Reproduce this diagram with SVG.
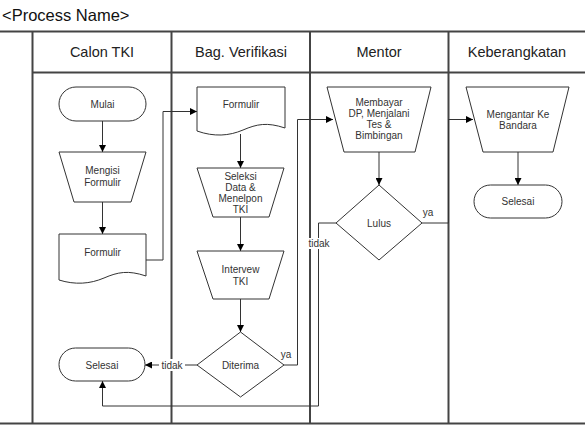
<svg xmlns="http://www.w3.org/2000/svg" width="585" height="426" viewBox="0 0 585 426">
<defs>
<marker id="ah" viewBox="0 0 10 10" refX="10" refY="5" markerWidth="7" markerHeight="7" orient="auto" markerUnits="userSpaceOnUse">
<path d="M0,0 L10,5 L0,10 z" fill="#000"/>
</marker>
</defs>
<style>
.lane{stroke:#444;stroke-width:2;fill:none}
.shape{fill:#fff;stroke:#333;stroke-width:1}
.t{font-family:"Liberation Sans",Arial,sans-serif;font-size:10px;fill:#333;text-anchor:middle}
.h{font-family:"Liberation Sans",Arial,sans-serif;font-size:14.5px;fill:#222;text-anchor:middle}
.c{fill:none;stroke:#333;stroke-width:1}
.lbl{font-family:"Liberation Sans",Arial,sans-serif;font-size:10px;fill:#333}
</style>
<rect width="585" height="426" fill="#fff"/>
<text x="2" y="21" font-family="Liberation Sans, Arial, sans-serif" font-size="16.5" fill="#111">&lt;Process Name&gt;</text>
<g id="pool">
<line class="lane" x1="0" y1="31.5" x2="585" y2="31.5"/>
<line class="lane" x1="0" y1="423.5" x2="585" y2="423.5"/>
<line class="lane" x1="32.5" y1="31.5" x2="32.5" y2="423.5"/>
<line class="lane" x1="171.5" y1="31.5" x2="171.5" y2="423.5"/>
<line class="lane" x1="310" y1="31.5" x2="310" y2="423.5"/>
<line class="lane" x1="448.5" y1="31.5" x2="448.5" y2="423.5"/>
<line class="lane" x1="32.5" y1="72.5" x2="585" y2="72.5"/>
<text class="h" x="102" y="57">Calon TKI</text>
<text class="h" x="241" y="57">Bag. Verifikasi</text>
<text class="h" x="379" y="57">Mentor</text>
<text class="h" x="517" y="57">Keberangkatan</text>
</g>
<g id="connectors">
<line class="c" x1="102.5" y1="121" x2="102.5" y2="152" marker-end="url(#ah)"/>
<line class="c" x1="102.5" y1="202" x2="102.5" y2="234" marker-end="url(#ah)"/>
<polyline class="c" points="146,260 163,260 163,111.5 197,111.5" marker-end="url(#ah)"/>
<line class="c" x1="240.5" y1="134" x2="240.5" y2="168" marker-end="url(#ah)"/>
<line class="c" x1="240.5" y1="217" x2="240.5" y2="251" marker-end="url(#ah)"/>
<line class="c" x1="240.5" y1="299" x2="240.5" y2="332" marker-end="url(#ah)"/>
<line class="c" x1="197" y1="365" x2="145" y2="365" marker-end="url(#ah)"/>
<polyline class="c" points="284,365 297.5,365 297.5,119.5 333,119.5" marker-end="url(#ah)"/>
<line class="c" x1="379" y1="152" x2="379" y2="185" marker-end="url(#ah)"/>
<polyline class="c" points="336,223 318.5,223 318.5,406 102.5,406 102.5,381" marker-end="url(#ah)"/>
<polyline class="c" points="422,223 448.5,223 448.5,119.5 473,119.5" marker-end="url(#ah)"/>
<line class="c" x1="518" y1="152" x2="518" y2="185" marker-end="url(#ah)"/>
<rect x="159" y="359" width="26" height="12" fill="#fff"/>
<text class="lbl" x="172" y="368.5" text-anchor="middle">tidak</text>
<text class="lbl" x="286" y="358" text-anchor="middle">ya</text>
<rect x="307" y="238" width="24" height="11" fill="#fff"/>
<text class="lbl" x="319" y="246.5" text-anchor="middle">tidak</text>
<text class="lbl" x="428" y="216" text-anchor="middle">ya</text>
</g>
<g id="mulai">
<rect class="shape" x="59" y="87" width="87" height="34" rx="17"/>
<text class="t" x="102.5" y="107.5">Mulai</text>
</g>
<g id="mengisi">
<polygon class="shape" points="59,152 146,152 131,202 74,202"/>
<text class="t" x="102.5" y="174">Mengisi</text>
<text class="t" x="102.5" y="186">Formulir</text>
</g>
<g id="formulir1">
<path class="shape" d="M59,234 H146 V276 C128,270 118,272 104,278 C90,284 75,285 59,280 Z"/>
<text class="t" x="102.5" y="256">Formulir</text>
</g>
<g id="selesai1">
<rect class="shape" x="59" y="348" width="86" height="33" rx="16.5"/>
<text class="t" x="102" y="368.5">Selesai</text>
</g>
<g id="formulir2">
<path class="shape" d="M197,87 H285 V128 C267,122 257,124 243,130 C229,136 214,137 197,131 Z"/>
<text class="t" x="241" y="108">Formulir</text>
</g>
<g id="seleksi">
<polygon class="shape" points="197,168 284,168 269,217 213,217"/>
<text class="t" x="240.5" y="180">Seleksi</text>
<text class="t" x="240.5" y="191">Data &amp;</text>
<text class="t" x="240.5" y="202">Menelpon</text>
<text class="t" x="240.5" y="213">TKI</text>
</g>
<g id="interview">
<polygon class="shape" points="197,251 284,251 269,299 213,299"/>
<text class="t" x="240.5" y="273">Intervew</text>
<text class="t" x="240.5" y="285">TKI</text>
</g>
<g id="diterima">
<polygon class="shape" points="240.5,332 284,365 240.5,397 197,365"/>
<text class="t" x="240.5" y="368.5">Diterima</text>
</g>
<g id="membayar">
<polygon class="shape" points="327,87 431,87 415,152 344,152"/>
<text class="t" x="379" y="106">Membayar</text>
<text class="t" x="379" y="117">DP, Menjalani</text>
<text class="t" x="379" y="128">Tes &amp;</text>
<text class="t" x="379" y="139">Bimbingan</text>
</g>
<g id="lulus">
<polygon class="shape" points="379,185 422,223 379,260 336,223"/>
<text class="t" x="379" y="226.5">Lulus</text>
</g>
<g id="mengantar">
<polygon class="shape" points="466,87 569,87 553,152 483,152"/>
<text class="t" x="518" y="118">Mengantar Ke</text>
<text class="t" x="518" y="129">Bandara</text>
</g>
<g id="selesai2">
<rect class="shape" x="474" y="185" width="88" height="33" rx="16.5"/>
<text class="t" x="518" y="205">Selesai</text>
</g>
</svg>
